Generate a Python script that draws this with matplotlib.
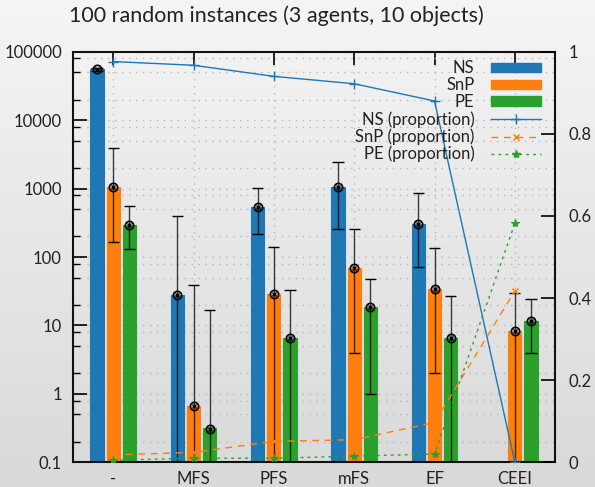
import numpy as np
import matplotlib

matplotlib.use("Agg")
import matplotlib.pyplot as plt
from matplotlib.ticker import LogLocator, NullFormatter
from matplotlib.lines import Line2D
from matplotlib.patches import Patch

plt.rcParams["font.family"] = ["Lato", "DejaVu Sans"]

categories = ["-", "MFS", "PFS", "mFS", "EF", "CEEI"]

# bar means and error bar ranges (0.01 = below the axis)
ns_mean = [55700, 28, 546, 1050, 302, np.nan]
ns_low = [53000, 0.01, 215, 255, 71, np.nan]
ns_high = [58000, 400, 1035, 2430, 857, np.nan]

snp_mean = [1070, 0.66, 28.6, 70, 34.2, 8.4]
snp_low = [166, 0.01, 0.01, 3.96, 2.0, 0.01]
snp_high = [3900, 39, 139, 258, 134.5, 29.6]

pe_mean = [292, 0.307, 6.63, 18.5, 6.63, 11.75]
pe_low = [133, 0.01, 0.01, 0.99, 0.01, 3.96]
pe_high = [565, 16.9, 33, 47.3, 27.3, 24.6]

# proportions (right axis)
ns_prop = [0.976, 0.967, 0.94, 0.922, 0.88, 0.0]
snp_prop = [0.018, 0.024, 0.051, 0.055, 0.097, 0.417]
pe_prop = [0.005, 0.01, 0.01, 0.015, 0.02, 0.582]

BLUE = "#1f77b4"
ORANGE = "#ff7f0e"
GREEN = "#2ca02c"
TXT = "#222222"

fig = plt.figure(figsize=(5.95, 4.87), dpi=100)

# gradient background
bg = fig.add_axes([0, 0, 1, 1], zorder=-10)
grad = np.linspace(0, 1, 256).reshape(-1, 1)
bg.imshow(grad, aspect="auto", cmap=matplotlib.colors.LinearSegmentedColormap.from_list(
    "bg", ["#f5f5f5", "#d9d9d9"]), extent=[0, 1, 0, 1])
bg.axis("off")

ax = fig.add_axes([0.1227, 0.0507, 0.8101, 0.8431])
ax.set_facecolor("none")
ax.set_yscale("log")
ax.set_ylim(0.1, 100000)
ax.set_xlim(-0.5, 5.5)

x = np.arange(len(categories))
width = 0.165
series = [
    ("NS", ns_mean, ns_low, ns_high, BLUE, -0.2),
    ("SnP", snp_mean, snp_low, snp_high, ORANGE, 0.0),
    ("PE", pe_mean, pe_low, pe_high, GREEN, 0.2),
]
for name, mean, low, high, color, off in series:
    mean = np.array(mean, dtype=float)
    ok = ~np.isnan(mean)
    xs = x[ok] + off
    ax.bar(xs, mean[ok], width=width, bottom=0.01, color=color,
           edgecolor=color, linewidth=0.8, zorder=2)
    lo = np.array(low)[ok]
    hi = np.array(high)[ok]
    ax.vlines(xs, lo, hi, color="black", lw=1.0, alpha=0.75, zorder=3)
    ax.hlines(lo, xs - 0.07, xs + 0.07, color="black", lw=1.0, zorder=3)
    ax.hlines(hi, xs - 0.07, xs + 0.07, color="black", lw=1.0, zorder=3)
    ax.plot(xs, mean[ok], "o", ms=6, mfc="none", mec="black", mew=1.2, zorder=4)
    ax.plot(xs, mean[ok], "x", ms=3.5, color="black", mew=1.0, zorder=4)

ax.yaxis.set_minor_locator(LogLocator(base=10, subs=[2, 5, 8], numticks=10))
ax.yaxis.set_minor_formatter(NullFormatter())
ax.set_yticks([0.1, 1, 10, 100, 1000, 10000, 100000])
ax.set_yticklabels(["0.1", "1", "10", "100", "1000", "10000", "100000"])
ax.set_xticks(x)
ax.set_xticklabels(categories)
ax.tick_params(axis="y", which="major", direction="in", length=10, width=1.2,
               right=False, labelsize=12, colors="black", labelcolor=TXT, pad=8)
ax.tick_params(axis="y", which="minor", direction="in", length=5, width=1.0, right=False)
ax.tick_params(axis="x", direction="in", length=9, width=1.2, bottom=False, top=True,
               labelsize=12, labelcolor=TXT, pad=6)
ax.grid(True, which="both", axis="y", ls=(0, (1, 4)), color="#b8b8b8", lw=1.0, zorder=0)
ax.grid(True, which="major", axis="x", ls=(0, (1, 4)), color="#b8b8b8", lw=1.0, zorder=0)
for sp in ax.spines.values():
    sp.set_linewidth(1.5)
    sp.set_color("#111111")

ax2 = ax.twinx()
ax2.set_ylim(0, 1)
ax2.set_yticks([0, 0.2, 0.4, 0.6, 0.8, 1])
ax2.set_yticklabels(["0", "0.2", "0.4", "0.6", "0.8", "1"])
ax2.tick_params(axis="y", direction="in", length=10, width=1.2, labelsize=12,
                labelcolor=TXT, pad=10)
ax2.plot(x, ns_prop, color=BLUE, lw=1.0, marker="+", ms=7, mew=1.0)
ax2.plot(x, snp_prop, color=ORANGE, lw=1.0, ls=(0, (5, 4)), marker="x", ms=5, mew=1.0)
ax2.plot(x, pe_prop, color=GREEN, lw=1.0, ls=(0, (2, 3)), marker="*", ms=6, mew=0.8)
for sp in ax2.spines.values():
    sp.set_visible(False)

handles = [
    Patch(color=BLUE, label="NS"),
    Patch(color=ORANGE, label="SnP"),
    Patch(color=GREEN, label="PE"),
    Line2D([], [], color=BLUE, lw=1.0, marker="+", ms=7, label="NS (proportion)"),
    Line2D([], [], color=ORANGE, lw=1.0, ls=(0, (5, 4)), marker="x", ms=5, label="SnP (proportion)"),
    Line2D([], [], color=GREEN, lw=1.0, ls=(0, (2, 3)), marker="*", ms=6, label="PE (proportion)"),
]
leg = ax2.legend(handles=handles, loc="upper right", markerfirst=False, frameon=False,
                 fontsize=12, handlelength=3.0, handleheight=0.5, labelspacing=0.05,
                 handletextpad=1.0, borderaxespad=0.0, bbox_to_anchor=(0.985, 0.995))
for t in leg.get_texts():
    t.set_color(TXT)

fig.text(276 / 595, 1 - 16 / 487, "100 random instances (3 agents, 10 objects)",
         ha="center", va="center", fontsize=15.5, color=TXT)

fig.savefig("out.png", dpi=100)
